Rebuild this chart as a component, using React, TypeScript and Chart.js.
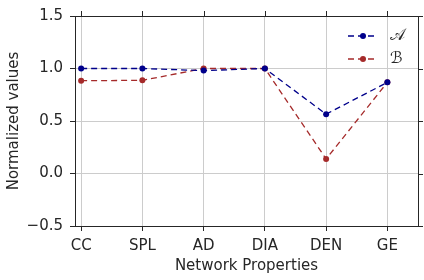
import React, { useEffect, useRef } from "react";
import { Chart, registerables } from "chart.js";

Chart.register(...registerables);

const categories = ["CC", "SPL", "AD", "DIA", "DEN", "GE"];
const seriesA = [1.0, 1.0, 0.98, 1.0, 0.565, 0.868];
const seriesB = [0.884, 0.887, 1.0, 1.0, 0.138, 0.868];
const seriesLabels = ["𝒜", "ℬ"];
const yTicks = [-0.5, 0.0, 0.5, 1.0, 1.5];

const SPINE = "#262626";
const FONT = "'DejaVu Sans', sans-serif";

const framePlugin = {
  id: "frame",
  afterDraw(chart: any) {
    const { ctx, chartArea } = chart;
    const { left, right, top, bottom } = chartArea;
    const xs = chart.scales.x;
    const ys = chart.scales.y;
    ctx.save();
    ctx.strokeStyle = SPINE;
    ctx.lineWidth = 1;
    ctx.beginPath();
    xs.ticks.forEach((t: any) => {
      const px = Math.round(xs.getPixelForValue(t.value)) + 0.5;
      ctx.moveTo(px, top);
      ctx.lineTo(px, top - 5);
    });
    ys.ticks.forEach((t: any) => {
      const py = Math.round(ys.getPixelForValue(t.value)) + 0.5;
      ctx.moveTo(right, py);
      ctx.lineTo(right + 5, py);
    });
    ctx.stroke();
    ctx.strokeRect(left + 0.5, top + 0.5, right - left, bottom - top);

    chart.data.datasets.forEach((ds: any, i: number) => {
      const y = top + 20 + i * 23;
      const x0 = right - 70;
      ctx.strokeStyle = ds.borderColor;
      ctx.lineWidth = 1.3;
      ctx.setLineDash([6, 4]);
      ctx.beginPath();
      ctx.moveTo(x0, y);
      ctx.lineTo(x0 + 30, y);
      ctx.stroke();
      ctx.setLineDash([]);
      ctx.fillStyle = ds.borderColor;
      ctx.beginPath();
      ctx.arc(x0 + 15, y, 3, 0, Math.PI * 2);
      ctx.fill();
      ctx.fillStyle = SPINE;
      ctx.font = "16px " + FONT;
      ctx.textBaseline = "middle";
      ctx.textAlign = "left";
      ctx.fillText(ds.label, x0 + 42, y);
    });
    ctx.restore();
  },
};

export default function App() {
  const ref = useRef<HTMLCanvasElement | null>(null);
  useEffect(() => {
    document.body.style.margin = "0";
    const toPts = (arr: number[]) => arr.map((v, i) => ({ x: i, y: v }));
    const chart = new Chart(ref.current as HTMLCanvasElement, {
      type: "line",
      data: {
        datasets: [
          {
            label: seriesLabels[0],
            data: toPts(seriesA),
            borderColor: "#00008B",
            backgroundColor: "#00008B",
            borderWidth: 1.3,
            borderDash: [6, 4],
            pointRadius: 3,
            pointBorderWidth: 0,
            pointBackgroundColor: "#00008B",
          },
          {
            label: seriesLabels[1],
            data: toPts(seriesB),
            borderColor: "#A52A2A",
            backgroundColor: "#A52A2A",
            borderWidth: 1.3,
            borderDash: [6, 4],
            pointRadius: 3,
            pointBorderWidth: 0,
            pointBackgroundColor: "#A52A2A",
          },
        ],
      },
      options: {
        animation: false,
        responsive: false,
        layout: { padding: { top: 14, right: 6, left: 0, bottom: 0 } },
        plugins: { legend: { display: false }, tooltip: { enabled: false } },
        scales: {
          x: {
            type: "linear",
            min: -0.1,
            max: 5.5,
            afterBuildTicks: (s: any) => {
              s.ticks = categories.map((_, i) => ({ value: i }));
            },
            afterFit: (s: any) => {
              s.height = 54;
            },
            ticks: {
              callback: (v: any) => categories[v] ?? "",
              color: SPINE,
              font: { family: FONT, size: 15 },
              padding: 6,
              maxRotation: 0,
              autoSkip: false,
            },
            grid: { color: "#cccccc", tickColor: SPINE, tickLength: 5, lineWidth: 1 },
            border: { display: true, color: SPINE, width: 1 },
            title: {
              display: true,
              text: "Network Properties",
              color: SPINE,
              font: { family: FONT, size: 15 },
              padding: { top: 0, bottom: 5 },
            },
          },
          y: {
            min: -0.5,
            max: 1.5,
            afterBuildTicks: (s: any) => {
              s.ticks = yTicks.map((v) => ({ value: v }));
            },
            afterFit: (s: any) => {
              s.width = 75;
            },
            ticks: {
              callback: (v: any) => Number(v).toFixed(1).replace("-", "\u2212"),
              color: SPINE,
              font: { family: FONT, size: 15 },
              padding: 7,
            },
            grid: { color: "#cccccc", tickColor: SPINE, tickLength: 5, lineWidth: 1 },
            border: { display: true, color: SPINE, width: 1 },
            title: {
              display: true,
              text: "Normalized values",
              color: SPINE,
              font: { family: FONT, size: 15 },
              padding: { top: 5, bottom: 0 },
            },
          },
        },
      },
      plugins: [framePlugin],
    } as any);
    return () => chart.destroy();
  }, []);
  return <canvas ref={ref} width={424} height={280} style={{ display: "block" }} />;
}
